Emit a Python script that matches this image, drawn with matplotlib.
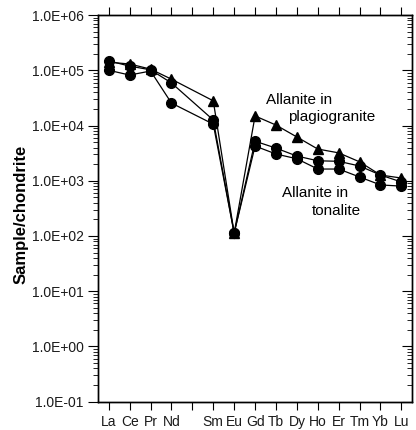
import matplotlib
matplotlib.use('Agg')
import matplotlib.pyplot as plt
from matplotlib.ticker import FixedLocator, FuncFormatter, NullFormatter

plt.rcParams['font.family'] = ['Liberation Sans', 'DejaVu Sans']

# REE order, Pm has a tick but no label and no data
elements = ['La', 'Ce', 'Pr', 'Nd', '', 'Sm', 'Eu', 'Gd', 'Tb', 'Dy', 'Ho', 'Er', 'Tm', 'Yb', 'Lu']
data_elements = ['La', 'Ce', 'Pr', 'Nd', 'Sm', 'Eu', 'Gd', 'Tb', 'Dy', 'Ho', 'Er', 'Tm', 'Yb', 'Lu']

plagiogranite = [1.40e5, 1.30e5, 1.05e5, 6.9e4, 2.8e4, 1.13e2, 1.49e4, 1.02e4, 6.2e3, 3.75e3, 3.2e3, 2.2e3, 1.27e3, 1.12e3]
tonalite_1 = [1.48e5, 1.19e5, 1.02e5, 5.9e4, 1.26e4, 1.13e2, 5.2e3, 3.9e3, 2.8e3, 2.3e3, 2.25e3, 1.85e3, 1.27e3, 9.5e2]
tonalite_2 = [1.00e5, 8.2e4, 9.7e4, 2.55e4, 1.06e4, 1.13e2, 4.25e3, 3.05e3, 2.5e3, 1.63e3, 1.63e3, 1.17e3, 8.4e2, 8.0e2]

y_major = [1e-1, 1e0, 1e1, 1e2, 1e3, 1e4, 1e5, 1e6]

x = [elements.index(e) for e in data_elements]
y_minor = [m * d for d in y_major[:-1] for m in range(2, 10)]

fig = plt.figure(figsize=(4.16, 4.30), dpi=100)
ax = fig.add_axes([0.2363, 0.0658, 0.7537, 0.8992])

ax.plot(x, plagiogranite, color='black', lw=0.9, marker='^', ms=6.5, zorder=2)
ax.plot(x, tonalite_1, color='black', lw=0.9, marker='o', ms=7, zorder=3)
ax.plot(x, tonalite_2, color='black', lw=0.9, marker='o', ms=7, zorder=3)

ax.set_yscale('log')
ax.set_ylim(1e-1, 1e6)
ax.set_xlim(-0.5, 14.5)

ax.set_xticks(range(len(elements)))
ax.set_xticklabels(elements, fontsize=10, color='#1a1a1a')
ax.yaxis.set_major_locator(FixedLocator(y_major))
ax.yaxis.set_minor_locator(FixedLocator(y_minor))
ax.yaxis.set_major_formatter(FuncFormatter(lambda v, p: f'{v:.1E}'))
ax.yaxis.set_minor_formatter(NullFormatter())
ax.tick_params(axis='y', which='major', direction='out', length=7, width=0.8,
               labelsize=10, labelcolor='#1a1a1a')
ax.tick_params(axis='y', which='minor', direction='out', length=3.5, width=0.6)
ax.tick_params(axis='x', direction='out', length=6, width=0.8, top=True)

ax2 = ax.twinx()
ax2.set_yscale('log')
ax2.set_ylim(ax.get_ylim())
ax2.yaxis.set_major_locator(FixedLocator(y_major))
ax2.yaxis.set_minor_locator(FixedLocator(y_minor))
ax2.yaxis.set_major_formatter(NullFormatter())
ax2.yaxis.set_minor_formatter(NullFormatter())
ax2.tick_params(axis='y', which='major', direction='in', length=7, width=0.8, labelright=False)
ax2.tick_params(axis='y', which='minor', direction='in', length=3.5, width=0.6)

for a in (ax, ax2):
    for s in a.spines.values():
        s.set_linewidth(1.0)

ax.set_ylabel('Sample/chondrite', fontsize=12, fontweight='bold')
ax.yaxis.set_label_coords(-0.224, 0.485)

ax.text(0.535, 0.780, 'Allanite in', transform=ax.transAxes, fontsize=11, va='center', ha='left')
ax.text(0.605, 0.737, 'plagiogranite', transform=ax.transAxes, fontsize=11, va='center', ha='left')
ax.text(0.585, 0.540, 'Allanite in', transform=ax.transAxes, fontsize=11, va='center', ha='left')
ax.text(0.681, 0.493, 'tonalite', transform=ax.transAxes, fontsize=11, va='center', ha='left')

fig.savefig('out.png', dpi=100)
